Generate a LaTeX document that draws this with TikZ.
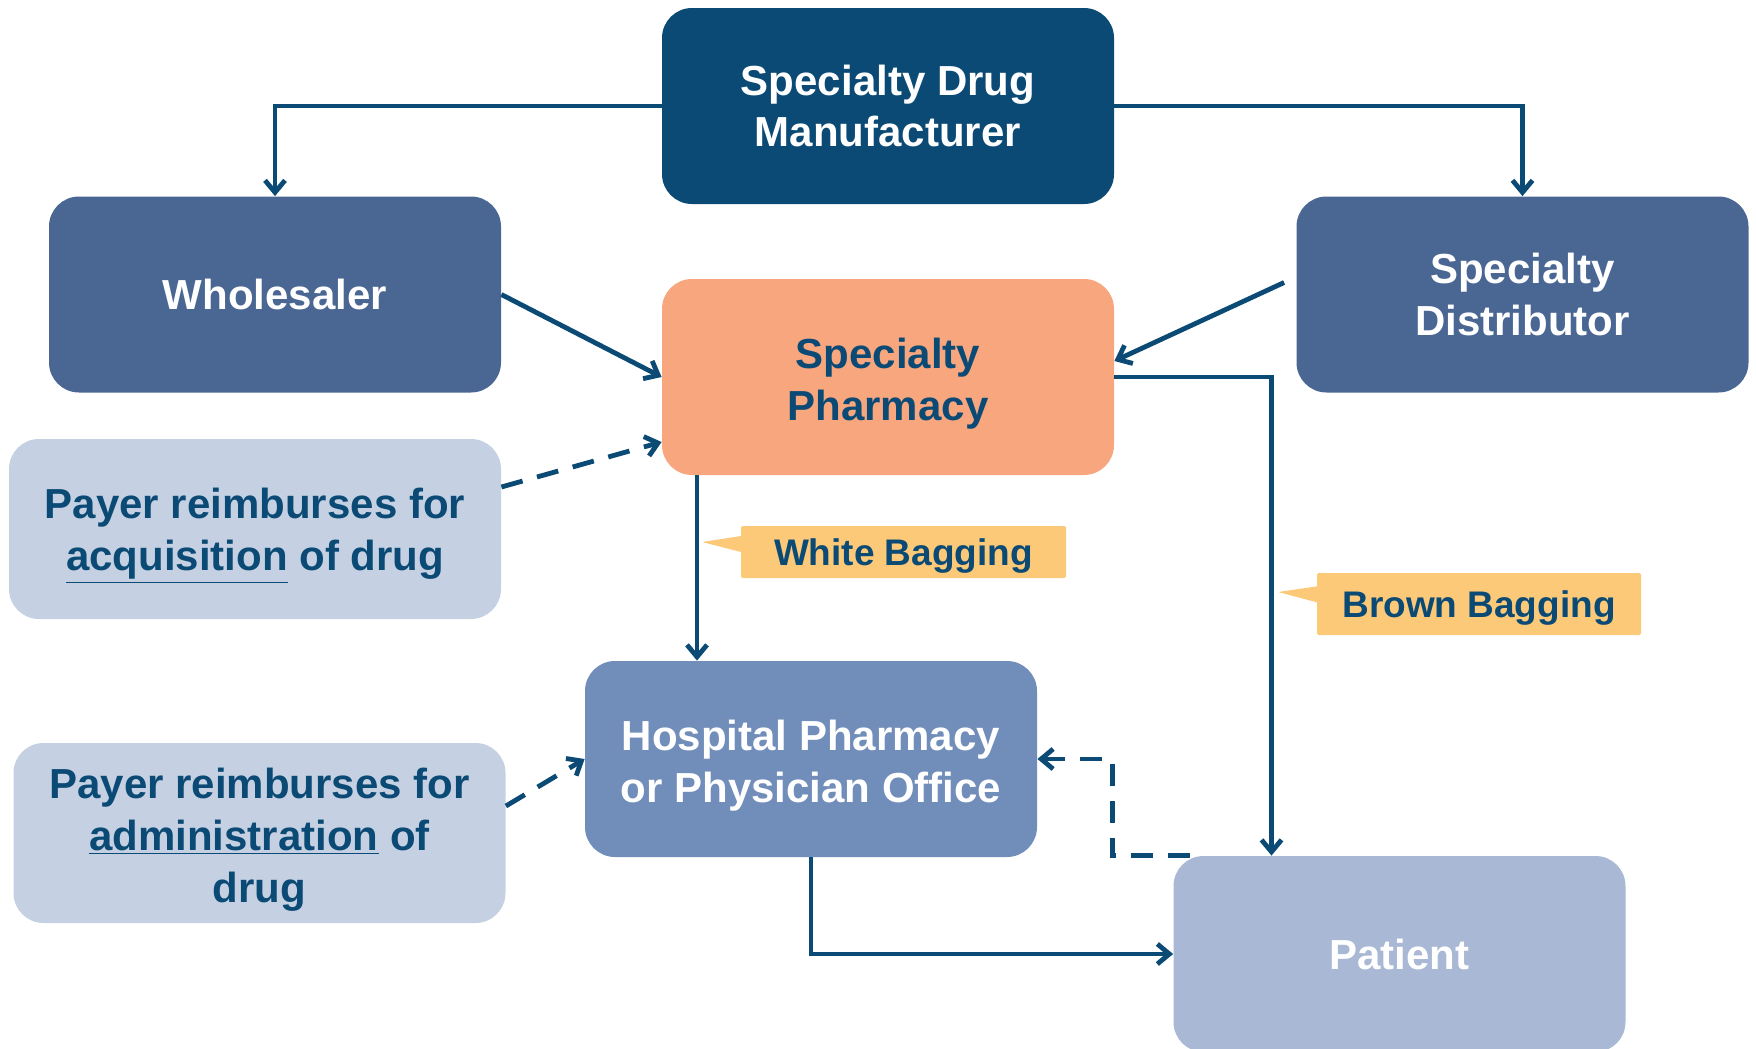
\documentclass[tikz,border=0pt]{standalone}
\usepackage{fontspec}
\setmainfont{Liberation Sans}
\usetikzlibrary{arrows.meta, shapes.callouts}

\definecolor{navy}{HTML}{0B4A75}
\definecolor{distblue}{HTML}{4A6794}
\definecolor{hospblue}{HTML}{718DBA}
\definecolor{patblue}{HTML}{A9B9D5}
\definecolor{payerblue}{HTML}{C5D1E3}
\definecolor{pharmorange}{HTML}{F7A67E}
\definecolor{tagyellow}{HTML}{FCC978}

% taller first line, pushes a text block down in its box
\newcommand{\lowline}{\rule{0pt}{22pt}}

\begin{document}
\begin{tikzpicture}[x=0.5pt, y=-0.5pt,
    box/.style={rectangle, rounded corners=15pt, minimum width=226pt, minimum height=98pt,
        inner sep=0pt, align=center, font=\bfseries\fontsize{21}{25.8}\selectfont},
    payer/.style={box, fill=payerblue, text=navy, minimum width=246pt, minimum height=90pt},
    tag/.style={rectangle callout, fill=tagyellow, text=navy, rounded corners=1pt,
        inner sep=0pt, callout pointer width=8pt, execute at begin node={\rule{0pt}{17.5pt}},
        font=\bfseries\fontsize{18.5}{22}\selectfont},
    flow/.style={draw=navy, line width=2.4pt, -{Straight Barb[length=6pt, width=10pt]}},
    dflow/.style={flow, dash pattern=on 11pt off 7.5pt}]
        \useasboundingbox (0,0) rectangle (1756,1049);

        % Nodes
        \node[box, fill=navy, text=white] (mfr) at (888, 106) {Specialty Drug\\Manufacturer};
        \node[box, fill=distblue, text=white] (whole) at (275, 294.5) {Wholesaler};
        \node[box, fill=distblue, text=white] (dist) at (1522.5, 294.5) {Specialty\\Distributor};
        \node[box, fill=pharmorange, text=navy] (pharm) at (888, 377) {\lowline Specialty\\Pharmacy};
        \node[payer] (acq) at (255, 529) {\lowline Payer reimburses for\\\underline{acquisition} of drug};
        \node[box, fill=hospblue, text=white] (hosp) at (811, 759) {\lowline Hospital Pharmacy\\or Physician Office};
        \node[payer] (adm) at (259.5, 833) {\lowline Payer reimburses for\\\underline{administration} of\\drug};
        \node[box, fill=patblue, text=white] (pat) at (1399.5, 954) {Patient};

        % Tags
        \node[tag, minimum width=162.5pt, minimum height=26pt,
            callout absolute pointer={(702, 542)}] (white) at (903.5, 552) {White Bagging};
        \node[tag, minimum width=162pt, minimum height=31pt,
            callout absolute pointer={(1278, 592)}] (brown) at (1479, 604) {Brown Bagging};

        % Lines
        \draw[flow] (mfr.west) -| (whole.north);
        \draw[flow] (mfr.east) -| (dist.north);
        \draw[flow] (whole.east) -- (pharm.west);
        \draw[flow] ([shift={(-6pt,6pt)}]dist.west) -- ([yshift=8pt]pharm.east);
        \draw[flow] (pharm.east) -| ([xshift=-64pt]pat.north);
        \draw[flow] ([xshift=-95.5pt]pharm.south) -- ([xshift=-95.5pt]pharm.south |- hosp.north);
        \draw[flow] (hosp.south) |- (pat.west);
        \draw[dflow] ([yshift=21pt]acq.east) -- ([yshift=-32.5pt]pharm.west);
        \draw[dflow] ([yshift=13.5pt]adm.east) -- (hosp.west);
        \draw[dflow] ([xshift=8.5pt]pat.north west) -- ++(-78, 0) |- (hosp.east);
\end{tikzpicture}
\end{document}
